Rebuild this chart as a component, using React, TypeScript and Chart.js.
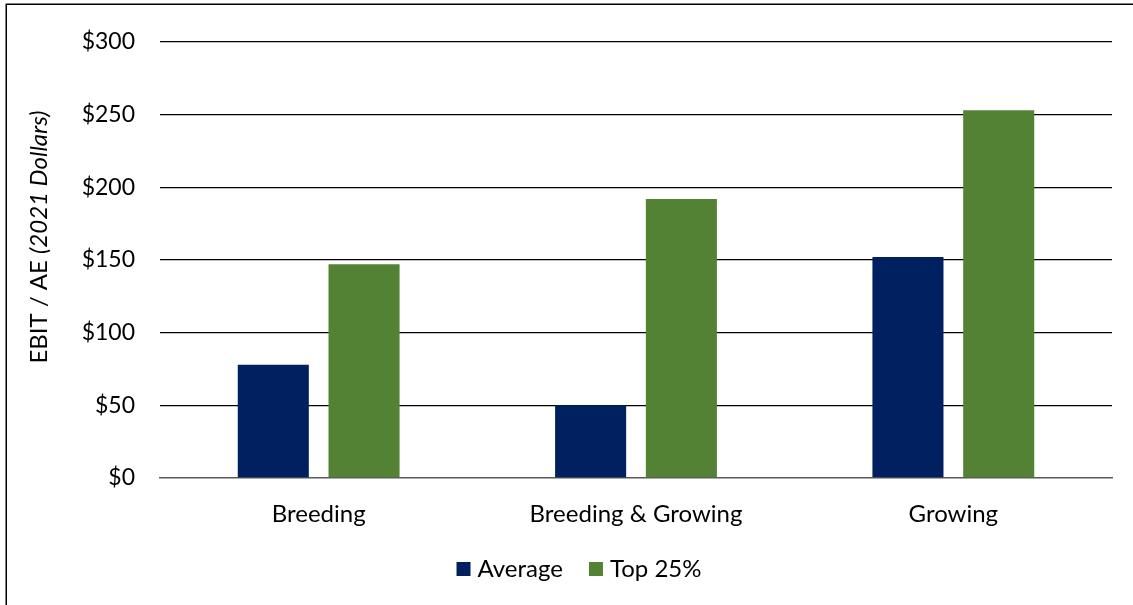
import { useEffect, useRef } from "react";
import { Chart, registerables } from "chart.js";

Chart.register(...registerables);

// Operation types on the category axis
const categories = ["Breeding", "Breeding & Growing", "Growing"];
// EBIT per adult equivalent, 2021 dollars
const averageValues = [78, 50, 152];
const top25Values = [147, 192, 253];
const seriesNames = ["Average", "Top 25%"];
const yTickValues = [0, 50, 100, 150, 200, 250, 300];
const yTitleMain = "EBIT / AE ";
const yTitleItalic = "(2021 Dollars)";

const FONT = "Lato";
const TICK_SIZE = 23;
const LABEL_SIZE = 24;
const NAVY = "#002060";
const GREEN = "#548235";

// Frame, mixed-style axis title and the legend row
const decorations = {
  id: "decorations",
  beforeDraw(chart: any) {
    const ctx = chart.ctx;
    ctx.save();
    ctx.fillStyle = "#ffffff";
    ctx.fillRect(0, 0, chart.width, chart.height);
    ctx.strokeStyle = "#000000";
    ctx.lineWidth = 1.5;
    ctx.strokeRect(6.25, 4.25, chart.width + 40, chart.height + 40);
    ctx.restore();
  },
  afterDraw(chart: any) {
    const ctx = chart.ctx;
    const { top, bottom } = chart.chartArea;

    // y-axis title: plain text followed by an italic part
    ctx.save();
    ctx.fillStyle = "#000000";
    ctx.textBaseline = "alphabetic";
    ctx.textAlign = "left";
    ctx.font = `${LABEL_SIZE}px ${FONT}`;
    const w1 = ctx.measureText(yTitleMain).width;
    ctx.font = `italic ${LABEL_SIZE}px ${FONT}`;
    const w2 = ctx.measureText(yTitleItalic).width;
    const total = w1 + w2;
    const cy = (top + bottom) / 2 - 23;
    ctx.translate(46.5, cy);
    ctx.rotate(-Math.PI / 2);
    ctx.font = `${LABEL_SIZE}px ${FONT}`;
    ctx.fillText(yTitleMain, -total / 2, 0);
    ctx.font = `italic ${LABEL_SIZE}px ${FONT}`;
    ctx.fillText(yTitleItalic, -total / 2 + w1, 0);
    ctx.restore();

    // legend
    ctx.save();
    ctx.font = `${LABEL_SIZE}px ${FONT}`;
    ctx.textBaseline = "alphabetic";
    ctx.textAlign = "left";
    const box = 14;
    const boxGap = 7;
    const itemGap = 26;
    const items = chart.data.datasets.map((ds: any) => ({
      label: ds.label as string,
      color: ds.backgroundColor as string,
      w: ctx.measureText(ds.label).width,
    }));
    const legendWidth =
      items.reduce((s: number, it: any) => s + box + boxGap + it.w, 0) +
      itemGap * (items.length - 1);
    let x = chart.width / 2 + 12.5 - legendWidth / 2;
    const baseline = bottom + 98.5;
    const boxTop = bottom + 84;
    for (const it of items) {
      ctx.fillStyle = it.color;
      ctx.fillRect(x, boxTop, box, box);
      ctx.fillStyle = "#000000";
      ctx.fillText(it.label, x + box + boxGap, baseline);
      x += box + boxGap + it.w + itemGap;
    }
    ctx.restore();
  },
};

export default function App() {
  const canvasRef = useRef<HTMLCanvasElement | null>(null);

  useEffect(() => {
    const canvas = canvasRef.current;
    if (!canvas) return;
    const chart = new Chart(canvas, {
      type: "bar",
      data: {
        labels: categories,
        datasets: [
          {
            label: seriesNames[0],
            data: averageValues,
            backgroundColor: NAVY,
            categoryPercentage: 0.572,
            barPercentage: 0.783,
          },
          {
            label: seriesNames[1],
            data: top25Values,
            backgroundColor: GREEN,
            categoryPercentage: 0.572,
            barPercentage: 0.783,
          },
        ],
      },
      options: {
        responsive: false,
        animation: false,
        devicePixelRatio: 1,
        layout: { padding: { left: 0, right: 21, top: 42, bottom: 77 } },
        plugins: {
          legend: { display: false },
          tooltip: { enabled: false },
        },
        scales: {
          x: {
            grid: { display: false, drawTicks: false },
            border: { display: true, color: "#595959", width: 1.5 },
            ticks: {
              color: "#000000",
              padding: 22,
              font: { family: FONT, size: LABEL_SIZE },
            },
            afterFit: (scale: any) => {
              scale.height = 50;
            },
          },
          y: {
            min: 0,
            max: 300,
            afterBuildTicks: (scale: any) => {
              scale.ticks = yTickValues.map((v) => ({ value: v }));
            },
            grid: {
              drawTicks: false,
              lineWidth: 1.3,
              color: (ctx: any) =>
                ctx.tick && ctx.tick.value === 0 ? "rgba(0,0,0,0)" : "#000000",
            },
            border: { display: false },
            ticks: {
              color: "#000000",
              padding: 25,
              font: { family: FONT, size: TICK_SIZE },
              callback: (v: any) => "$" + v,
            },
            afterFit: (scale: any) => {
              scale.width = 160;
            },
          },
        },
      },
      plugins: [decorations],
    });
    return () => chart.destroy();
  }, []);

  return (
    <div style={{ position: "absolute", left: 0, top: 0, width: 1133, height: 605 }}>
      <canvas ref={canvasRef} width={1133} height={605} />
    </div>
  );
}
